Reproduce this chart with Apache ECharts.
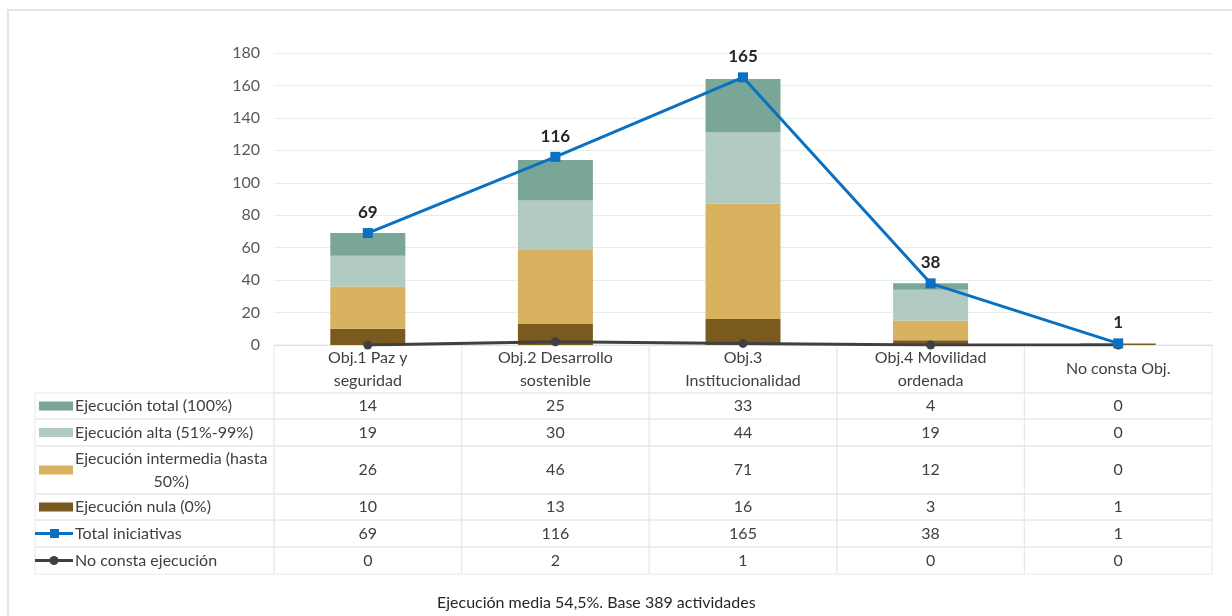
<!DOCTYPE html>
<html>
<head>
    <meta charset="utf-8">
    <title>Ejecución por objetivo</title>
    <script src="https://cdn.jsdelivr.net/npm/echarts@6/dist/echarts.min.js"></script>
    <style>
        html, body { margin: 0; padding: 0; background: #fff; }
        #chart { width: 1232px; height: 616px; }
    </style>
</head>
<body>
<div id="chart"></div>
<script type="text/javascript">
    // datos
    var categories = ['Obj.1 Paz y\nseguridad', 'Obj.2 Desarrollo\nsostenible', 'Obj.3\nInstitucionalidad', 'Obj.4 Movilidad\nordenada', 'No consta Obj.'];
    var ejecTotal = [14, 25, 33, 4, 0];
    var ejecAlta = [19, 30, 44, 19, 0];
    var ejecIntermedia = [26, 46, 71, 12, 0];
    var ejecNula = [10, 13, 16, 3, 1];
    var totalIniciativas = [69, 116, 165, 38, 1];
    var noConstaEjecucion = [0, 2, 1, 0, 0];
    var rowNames = ['Ejecución total (100%)', 'Ejecución alta (51%-99%)', 'Ejecución intermedia (hasta\n50%)', 'Ejecución nula (0%)', 'Total iniciativas', 'No consta ejecución'];
    var yMin = 0, yMax = 180, yStep = 20;
    var caption = 'Ejecución media 54,5%. Base 389 actividades';

    // colores y medidas
    var cTotal = '#7aa698', cAlta = '#b1cbc3', cInter = '#d8b25e', cNula = '#7a5a1f';
    var cLinea = '#0a70c2', cGris = '#404040';
    var FONT = 'Lato, "Liberation Sans", sans-serif';
    var TXT = '16px ' + FONT;
    var rowHeights = [48, 26, 27, 48, 26, 27, 27];   // cabecera + 6 filas
    var legendLeft = 35;

    var tableRows = [ejecTotal, ejecAlta, ejecIntermedia, ejecNula, totalIniciativas, noConstaEjecucion];
    var rowKinds = [cTotal, cAlta, cInter, cNula, 'linea', 'gris'];

    var rowStart = [], acc = 0;
    for (var i = 0; i < rowHeights.length; i++) { rowStart.push(acc); acc += rowHeights[i]; }
    var tableTotal = acc;

    // para medir el ancho de la primera linea
    var ctx = document.createElement('canvas').getContext('2d');
    ctx.font = TXT;

    // celdas de la tabla
    var cells = [];
    for (var c = 0; c < categories.length; c++) {
        cells.push({c: c, r: 0, text: categories[c]});
    }
    for (var r = 0; r < tableRows.length; r++) {
        cells.push({c: -1, r: r + 1, text: rowNames[r], kind: rowKinds[r]});
        for (c = 0; c < categories.length; c++) {
            cells.push({c: c, r: r + 1, text: String(tableRows[r][c])});
        }
    }

    function renderCell(params, api) {
        var cell = cells[params.dataIndex];
        var w = api.size([1, 0])[0];
        var y0 = api.coord([0, rowStart[cell.r]])[1];
        var y1 = api.coord([0, rowStart[cell.r] + rowHeights[cell.r]])[1];
        var x0, x1;
        if (cell.c >= 0) {
            var cx = api.coord([cell.c, 0])[0];
            x0 = cx - w / 2;
            x1 = cx + w / 2;
        } else {
            x0 = legendLeft;
            x1 = api.coord([0, 0])[0] - w / 2;
        }
        var cy = (y0 + y1) / 2;
        var children = [{
            type: 'rect',
            shape: {x: x0, y: y0, width: x1 - x0, height: y1 - y0},
            style: {fill: 'none', stroke: '#e4eae8', lineWidth: 1}
        }];
        if (cell.c >= 0) {
            children.push({
                type: 'text', x: (x0 + x1) / 2, y: cy,
                style: {text: cell.text, align: 'center', verticalAlign: 'middle', font: TXT, fill: '#404040', lineHeight: 23}
            });
        } else {
            if (cell.kind === 'linea' || cell.kind === 'gris') {
                var col = cell.kind === 'linea' ? cLinea : cGris;
                children.push({type: 'line', shape: {x1: x0, y1: cy, x2: x0 + 38, y2: cy}, style: {stroke: col, lineWidth: 3}});
                if (cell.kind === 'linea') {
                    children.push({type: 'rect', shape: {x: x0 + 15, y: cy - 4.5, width: 9, height: 9}, style: {fill: col}});
                } else {
                    children.push({type: 'circle', shape: {cx: x0 + 19, cy: cy, r: 4.5}, style: {fill: col}});
                }
            } else {
                children.push({type: 'rect', shape: {x: x0 + 4, y: cy - 4.5, width: 34, height: 9}, style: {fill: cell.kind}});
            }
            var tx = x0 + 40, al = 'left';
            if (cell.text.indexOf('\n') >= 0) {
                tx = x0 + 40 + ctx.measureText(cell.text.split('\n')[0]).width / 2;
                al = 'center';
            }
            children.push({
                type: 'text', x: tx, y: cy,
                style: {text: cell.text, align: al, verticalAlign: 'middle', font: TXT, fill: '#404040', lineHeight: 23}
            });
        }
        return {type: 'group', children: children};
    }

    var myChart = echarts.init(document.getElementById('chart'));
    var option = {
        backgroundColor: '#fff',
        animation: false,
        title: {
            text: caption, left: 432, top: 590,
            textStyle: {fontFamily: FONT, fontSize: 16, fontWeight: 'normal', color: '#262626'}
        },
        graphic: [{
            type: 'rect', silent: true, z: -10,
            shape: {x: 8, y: 10, width: 1400, height: 800},
            style: {fill: 'none', stroke: '#dde8e4', lineWidth: 2}
        }],
        grid: [
            {left: 274, right: 20, top: 53, height: 292},
            {left: 274, right: 20, top: 345, height: tableTotal}
        ],
        xAxis: [
            {
                type: 'category', gridIndex: 0, data: categories,
                axisLine: {lineStyle: {color: '#d9d9d9'}},
                axisTick: {show: false}, axisLabel: {show: false}
            },
            {type: 'category', gridIndex: 1, data: categories, show: false}
        ],
        yAxis: [
            {
                type: 'value', gridIndex: 0, min: yMin, max: yMax, interval: yStep,
                axisLine: {show: false}, axisTick: {show: false},
                axisLabel: {fontFamily: FONT, fontSize: 16, color: '#595959', margin: 14},
                splitLine: {lineStyle: {color: '#e4eeeb'}}
            },
            {type: 'value', gridIndex: 1, min: 0, max: tableTotal, inverse: true, show: false}
        ],
        series: [
            {name: 'Ejecución nula (0%)', type: 'bar', stack: 'ej', barWidth: 75, data: ejecNula, itemStyle: {color: cNula}},
            {name: 'Ejecución intermedia (hasta 50%)', type: 'bar', stack: 'ej', data: ejecIntermedia, itemStyle: {color: cInter}},
            {name: 'Ejecución alta (51%-99%)', type: 'bar', stack: 'ej', data: ejecAlta, itemStyle: {color: cAlta}},
            {name: 'Ejecución total (100%)', type: 'bar', stack: 'ej', data: ejecTotal, itemStyle: {color: cTotal}},
            {
                name: 'No consta ejecución', type: 'line', data: noConstaEjecucion, z: 3,
                symbol: 'circle', symbolSize: 9, lineStyle: {color: cGris, width: 3}, itemStyle: {color: cGris}
            },
            {
                name: 'Total iniciativas', type: 'line', data: totalIniciativas, z: 4,
                symbol: 'rect', symbolSize: 10, lineStyle: {color: cLinea, width: 3}, itemStyle: {color: cLinea},
                label: {show: true, position: 'top', distance: 7, fontFamily: FONT, fontSize: 17, fontWeight: 'bold', color: '#262626'}
            },
            {
                name: 'tabla', type: 'custom', xAxisIndex: 1, yAxisIndex: 1, silent: true,
                data: cells.map(function (d) { return [Math.max(d.c, 0), rowStart[d.r]]; }),
                renderItem: renderCell
            }
        ]
    };
    myChart.setOption(option);
</script>
</body>
</html>
